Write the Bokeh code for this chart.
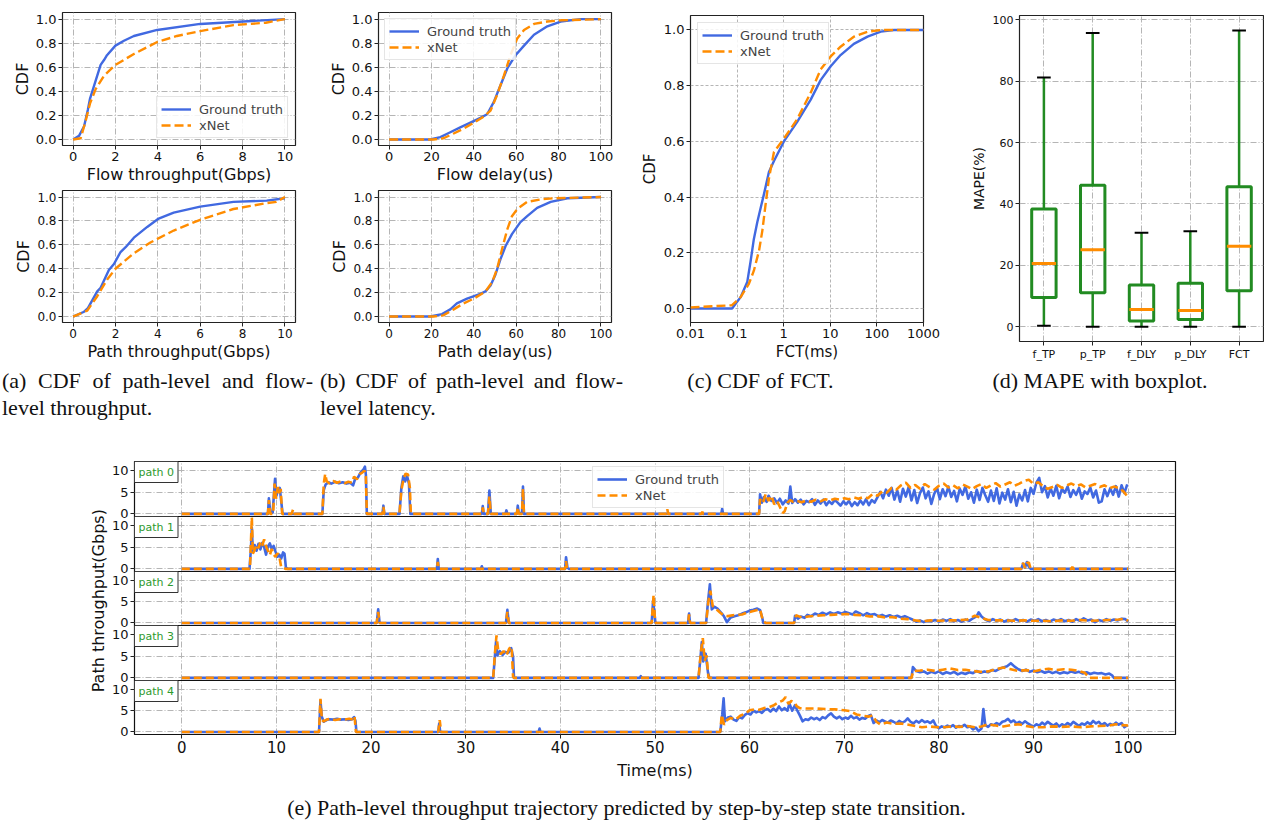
from math import pi
from bokeh.plotting import figure
from bokeh.layouts import row, column
from bokeh.models import Range1d, FixedTicker, PrintfTickFormatter, Label, Div, Grid
from bokeh.embed import file_html
from bokeh.resources import INLINE

# ---------------- data ----------------
# (a) CDF of throughput
flow_tp_gt_x = [0, 0.28, 0.52, 0.7, 0.8, 1.14, 1.3, 1.46, 1.6, 2.0, 2.4, 2.87, 3.97, 6.0, 8.04, 10]
flow_tp_gt_y = [0, 0.03, 0.11, 0.25, 0.34, 0.53, 0.62, 0.66, 0.70, 0.78, 0.82, 0.86, 0.91, 0.96, 0.98, 1.0]
flow_tp_xn_x = [0, 0.36, 0.6, 0.8, 1.07, 1.46, 2.0, 2.87, 3.97, 4.9, 6.0, 7.57, 9.1, 10]
flow_tp_xn_y = [0, 0.01, 0.16, 0.30, 0.42, 0.53, 0.62, 0.71, 0.81, 0.86, 0.90, 0.95, 0.97, 1.0]
path_tp_gt_x = [0, 0.52, 0.7, 1.14, 1.3, 1.69, 1.93, 2.24, 2.48, 2.87, 3.5, 4.04, 4.75, 6.0, 7.57, 9.14, 10]
path_tp_gt_y = [0, 0.04, 0.07, 0.21, 0.24, 0.39, 0.44, 0.54, 0.58, 0.66, 0.75, 0.82, 0.87, 0.92, 0.96, 0.97, 0.99]
path_tp_xn_x = [0, 0.67, 1.14, 1.61, 2.0, 2.87, 3.65, 4.75, 6.0, 7.57, 9.14, 9.6, 10]
path_tp_xn_y = [0, 0.05, 0.17, 0.31, 0.40, 0.53, 0.62, 0.72, 0.81, 0.90, 0.95, 0.96, 1.0]

# (b) CDF of delay
flow_dl_gt_x = [0, 19.4, 24.2, 28.9, 33.6, 38.4, 43.1, 46.3, 49.4, 52.6, 55.8, 59.7, 63.7, 68.4, 74.7, 81, 90.5, 100]
flow_dl_gt_y = [0, 0, 0.02, 0.06, 0.10, 0.14, 0.18, 0.21, 0.31, 0.45, 0.59, 0.70, 0.78, 0.87, 0.94, 0.98, 1.0, 1.0]
flow_dl_xn_x = [0, 21, 25.7, 30.5, 35.2, 40, 44.7, 47.9, 51, 54.2, 57.3, 60.5, 63.7, 68.4, 74.7, 81, 100]
flow_dl_xn_y = [0, 0, 0.01, 0.05, 0.09, 0.14, 0.19, 0.24, 0.37, 0.53, 0.70, 0.84, 0.91, 0.96, 0.98, 0.99, 1.0]
path_dl_gt_x = [0, 19.4, 25, 28.9, 32, 36.8, 43.1, 45.5, 47.9, 50.2, 52.6, 55, 58, 62, 65.2, 69.9, 76.3, 84.2, 100]
path_dl_gt_y = [0, 0, 0.02, 0.06, 0.11, 0.15, 0.19, 0.21, 0.26, 0.35, 0.48, 0.59, 0.69, 0.79, 0.84, 0.91, 0.96, 0.99, 1.0]
path_dl_xn_x = [0, 21, 25.7, 30.5, 35.2, 40, 45.5, 48.7, 51, 53.4, 55.8, 58, 60.5, 65.2, 71.4, 77.9, 100]
path_dl_xn_y = [0, 0, 0.01, 0.06, 0.11, 0.15, 0.21, 0.29, 0.40, 0.57, 0.73, 0.84, 0.90, 0.96, 0.98, 0.99, 1.0]

# (c) CDF of FCT
fct_gt_x = [0.01, 0.078, 0.119, 0.165, 0.195, 0.229, 0.271, 0.319, 0.376, 0.482, 0.618, 1.01, 1.95, 3.8,
            6.2, 10.2, 16.6, 32, 63, 121, 232, 1000]
fct_gt_y = [0, 0, 0.041, 0.095, 0.17, 0.25, 0.31, 0.36, 0.41, 0.49, 0.53, 0.60, 0.67, 0.75,
            0.82, 0.87, 0.91, 0.95, 0.976, 0.994, 1.0, 1.0]
fct_xn_x = [0.01, 0.078, 0.119, 0.179, 0.229, 0.295, 0.347, 0.408, 0.482, 0.618, 1.01, 1.95, 3.8, 6.2,
            10.2, 16.6, 32, 63, 121, 1000]
fct_xn_y = [0.004, 0.012, 0.041, 0.089, 0.136, 0.207, 0.278, 0.373, 0.467, 0.562, 0.61, 0.68, 0.775, 0.858,
            0.905, 0.94, 0.976, 0.994, 1.0, 1.0]

# (d) MAPE boxplot
box_names = ["f_TP", "p_TP", "f_DLY", "p_DLY", "FCT"]
box_low = [0.3, 0.0, 0.0, 0.0, 0.0]
box_q1 = [9.5, 11.1, 1.9, 2.4, 11.7]
box_med = [20.6, 25.1, 5.6, 5.3, 26.2]
box_q3 = [38.4, 46.1, 13.6, 14.2, 45.6]
box_high = [81.2, 95.7, 30.6, 31.1, 96.5]

# (e) path-level throughput trajectories: (time ms, Gbps)
p0_truth = [(0, 0), (9.1, 0), (9.2, 3.6), (9.35, 0.2), (9.6, 0.3), (9.75, 5.0), (9.85, 8.1), (10.0, 4.2),
            (10.15, 5.5), (10.35, 6.0), (10.5, 3.0), (10.65, 0), (14.85, 0), (15.0, 5.5), (15.2, 6.8),
            (15.5, 7.3), (15.8, 7.0), (16.2, 7.4), (16.6, 7.1), (17.0, 7.3), (17.4, 7.0), (17.8, 7.2),
            (18.1, 6.6), (18.3, 8.0), (18.6, 8.4), (18.9, 9.6), (19.2, 10.3), (19.35, 10.9), (19.45, 9.0),
            (19.55, 0), (21.2, 0), (21.3, 1.9), (21.4, 0), (23.0, 0), (23.2, 6.0), (23.4, 8.7), (23.6, 7.5),
            (23.8, 8.8), (24.0, 7.0), (24.15, 0), (31.7, 0), (31.8, 1.8), (31.9, 0), (32.35, 0), (32.5, 5.4),
            (32.65, 0), (34.2, 0), (34.3, 0.8), (34.4, 0), (35.4, 0), (35.5, 1.9), (35.6, 0.2), (35.95, 0.2),
            (36.05, 6.3), (36.15, 0), (57.0, 0), (57.1, 1.2), (57.2, 0), (61.0, 0),
            (61.1, 4.5), (61.3, 2.6), (61.5, 3.9), (61.8, 2.8), (62.0, 4.2), (62.3, 3.0), (62.6, 3.6),
            (62.9, 2.5), (63.2, 3.5), (63.5, 2.2), (63.8, 3.1), (64.1, 2.4), (64.3, 6.3), (64.5, 2.5),
            (64.8, 3.4), (65.1, 2.6), (65.4, 3.3), (65.7, 2.2), (66.0, 3.0), (66.3, 2.7), (66.6, 3.4),
            (66.9, 2.1), (67.2, 3.1), (67.5, 2.4), (67.8, 3.3), (68.1, 2.0), (68.4, 2.9), (68.7, 2.3),
            (69.0, 3.2), (69.3, 2.6), (69.6, 1.9), (69.9, 2.9), (70.2, 2.2), (70.5, 3.0), (70.8, 1.8),
            (71.1, 2.7), (71.4, 2.0), (71.7, 3.1), (72.0, 2.2), (72.3, 3.4), (72.6, 2.0), (72.9, 3.2),
            (73.2, 2.6), (73.5, 3.8), (73.8, 5.1), (74.1, 3.6), (74.4, 5.6), (74.7, 4.2), (75.0, 6.0),
            (75.3, 3.3), (75.6, 5.4), (75.9, 2.8), (76.2, 5.8), (76.5, 4.0), (76.8, 6.2), (77.1, 3.1),
            (77.4, 5.5), (77.7, 2.5), (78.0, 4.8), (78.3, 6.1), (78.6, 3.6), (78.9, 5.2), (79.2, 2.3),
            (79.5, 4.6), (79.8, 6.0), (80.1, 3.4), (80.4, 5.7), (80.7, 4.1), (81.0, 6.3), (81.3, 3.9),
            (81.6, 5.3), (81.9, 2.9), (82.2, 5.8), (82.5, 4.4), (82.8, 6.4), (83.1, 3.5), (83.4, 5.0),
            (83.7, 2.6), (84.0, 5.6), (84.3, 3.2), (84.6, 6.0), (84.9, 4.3), (85.2, 2.8), (85.5, 5.4),
            (85.8, 3.0), (86.1, 5.9), (86.4, 2.4), (86.7, 4.9), (87.0, 3.3), (87.3, 5.7), (87.6, 2.7),
            (87.9, 5.1), (88.2, 1.9), (88.5, 4.5), (88.8, 3.1), (89.1, 5.5), (89.4, 2.9), (89.7, 6.0),
            (90.0, 4.6), (90.3, 7.2), (90.6, 8.3), (90.9, 5.0), (91.2, 6.4), (91.5, 3.8), (91.8, 5.9),
            (92.1, 4.2), (92.4, 6.5), (92.7, 3.6), (93.0, 5.8), (93.3, 4.9), (93.6, 6.3), (93.9, 3.9),
            (94.2, 5.5), (94.5, 4.4), (94.8, 6.0), (95.1, 3.5), (95.4, 5.2), (95.7, 4.6), (96.0, 6.1),
            (96.3, 3.8), (96.6, 5.4), (96.9, 2.6), (97.2, 2.9), (97.5, 5.7), (97.8, 4.1), (98.1, 5.9),
            (98.4, 4.4), (98.7, 6.4), (99.0, 4.0), (99.3, 6.6), (99.6, 4.8), (99.9, 6.8)]
p0_xnet = [(0, 0), (9.1, 0), (9.2, 3.2), (9.35, 0), (9.65, 0), (9.8, 7.0), (9.95, 3.5), (10.15, 6.2),
           (10.3, 4.8), (10.45, 5.8), (10.6, 0), (11.6, 0), (11.75, 1.0), (11.9, 0), (14.85, 0), (15.0, 7.0),
           (15.15, 9.2), (15.3, 7.6), (15.6, 7.0), (16.0, 7.6), (16.4, 7.2), (16.8, 7.5), (17.2, 7.1),
           (17.6, 7.4), (18.0, 7.2), (18.2, 8.6), (18.5, 8.0), (18.8, 9.2), (19.1, 9.6), (19.3, 10.0),
           (19.45, 8.5), (19.55, 0), (21.2, 0), (21.3, 1.6), (21.4, 0), (23.0, 0), (23.2, 5.5), (23.45, 8.3),
           (23.65, 9.3), (23.9, 9.1), (24.1, 6.0), (24.2, 0), (31.7, 0), (31.8, 1.5), (31.9, 0), (32.35, 0),
           (32.5, 4.0), (32.65, 0), (35.4, 0), (35.5, 1.5), (35.6, 0), (35.95, 0), (36.05, 5.8), (36.15, 0),
           (51.2, 0), (51.3, 1.1), (51.4, 0), (54.9, 0), (55.0, 0.5), (55.1, 0), (61.0, 0),
           (61.1, 3.4), (61.4, 2.5), (61.7, 4.6), (62.0, 3.0), (62.3, 4.2), (62.6, 2.2), (62.9, 3.0),
           (63.2, 1.6), (63.5, 0.2), (63.7, 0.6), (64.0, 2.6), (64.3, 3.2), (64.6, 2.8), (65.0, 3.0),
           (65.5, 2.7), (66.0, 3.1), (66.5, 2.8), (67.0, 3.3), (67.5, 2.9), (68.0, 3.4), (68.5, 3.1),
           (69.0, 3.5), (69.5, 3.3), (70.0, 3.6), (70.5, 3.4), (71.0, 3.8), (71.5, 3.5), (72.0, 3.9),
           (72.5, 3.6), (73.0, 4.6), (73.5, 4.2), (74.0, 5.2), (74.5, 4.9), (75.0, 6.0), (75.5, 5.6),
           (76.0, 6.6), (76.5, 7.2), (77.0, 6.0), (77.5, 6.7), (78.0, 5.8), (78.5, 6.9), (79.0, 6.2),
           (79.5, 5.6), (80.0, 6.5), (80.5, 7.0), (81.0, 6.1), (81.5, 6.6), (82.0, 5.9), (82.5, 6.8),
           (83.0, 6.3), (83.5, 5.7), (84.0, 6.4), (84.5, 6.9), (85.0, 6.0), (85.5, 6.6), (86.0, 7.1),
           (86.5, 6.3), (87.0, 6.8), (87.5, 7.3), (88.0, 6.5), (88.5, 7.0), (89.0, 7.6), (89.5, 7.9),
           (90.0, 6.9), (90.5, 7.3), (91.0, 6.4), (91.5, 5.8), (92.0, 6.2), (92.5, 6.7), (93.0, 6.0),
           (93.5, 6.6), (94.0, 7.0), (94.5, 6.4), (95.0, 6.8), (95.5, 6.1), (96.0, 6.5), (96.5, 6.9),
           (97.0, 6.2), (97.5, 6.6), (98.0, 5.9), (98.5, 6.3), (99.0, 6.0), (99.5, 5.2), (100.0, 3.8)]

p1_truth = [(0, 0), (7.15, 0), (7.3, 4.5), (7.4, 9.5), (7.5, 4.0), (7.7, 5.5), (7.9, 4.2), (8.1, 5.8),
            (8.3, 4.5), (8.5, 6.0), (8.7, 5.0), (8.9, 3.3), (9.1, 5.2), (9.3, 5.9), (9.5, 4.6), (9.7, 5.3),
            (9.9, 4.0), (10.1, 2.8), (10.3, 3.3), (10.5, 2.4), (10.7, 3.8), (10.85, 3.5), (11.0, 0.3),
            (11.2, 0), (26.95, 0), (27.05, 2.3), (27.15, 0), (31.6, 0), (31.7, 0.6), (31.8, 0), (40.5, 0),
            (40.6, 2.7), (40.75, 0.3), (40.9, 0), (88.7, 0), (88.9, 1.2), (89.1, 0.3), (89.3, 1.6),
            (89.5, 0.5), (89.7, 0), (100, 0)]
p1_xnet = [(0, 0), (7.2, 0), (7.3, 6.0), (7.4, 11.9), (7.5, 3.5), (7.7, 4.4), (7.9, 5.6), (8.1, 4.8),
           (8.3, 6.2), (8.5, 5.4), (8.7, 6.8), (8.9, 5.2), (9.1, 4.2), (9.3, 3.2), (9.5, 4.6), (9.7, 3.3),
           (9.9, 2.8), (10.1, 3.6), (10.3, 2.9), (10.5, 0.4), (10.7, 0.2), (11.0, 0), (26.95, 0),
           (27.05, 1.6), (27.15, 0), (40.5, 0), (40.6, 1.8), (40.7, 0), (88.7, 0), (88.9, 1.4), (89.1, 0.2),
           (89.3, 1.3), (89.5, 1.5), (89.7, 0), (94.0, 0), (94.1, 0.5), (94.2, 0), (100, 0)]

p2_truth = [(0, 0), (20.6, 0), (20.75, 3.2), (20.9, 0), (34.25, 0), (34.4, 3.1), (34.55, 0), (49.65, 0),
            (49.8, 5.2), (49.95, 2.0), (50.05, 0), (53.5, 0), (53.6, 2.2), (53.7, 0), (55.4, 0), (55.6, 5.0),
            (55.8, 9.1), (56.0, 3.2), (56.3, 3.8), (56.6, 3.4), (57.0, 2.4), (57.3, 1.5), (57.6, 0.2),
            (58.0, 1.3), (58.4, 1.6), (58.8, 1.8), (59.2, 2.2), (59.6, 2.5), (60.0, 2.9), (60.4, 3.1),
            (60.8, 3.4), (61.1, 3.0), (61.3, 1.5), (61.45, 0), (64.7, 0),
            (64.8, 1.7), (65.1, 1.0), (65.4, 1.5), (65.8, 1.2), (66.1, 1.9), (66.5, 1.6), (66.9, 2.2),
            (67.3, 1.9), (67.7, 2.4), (68.1, 2.0), (68.5, 2.5), (68.9, 2.1), (69.3, 2.5), (69.7, 2.2),
            (70.1, 2.6), (70.5, 2.3), (70.9, 2.0), (71.2, 2.7), (71.6, 2.3), (72.0, 1.8), (72.4, 2.3),
            (72.8, 1.9), (73.2, 2.1), (73.6, 1.6), (74.0, 1.9), (74.4, 1.5), (74.8, 1.8), (75.2, 1.4),
            (75.6, 1.7), (76.0, 1.3), (76.4, 1.6), (76.8, 1.2), (77.2, 0.8), (77.6, 0.3), (78.0, 0.6),
            (78.4, 0.2), (78.8, 0.5), (79.2, 0.4), (79.6, 0.7), (80.0, 0.3), (80.4, 0.8), (80.8, 0.5),
            (81.2, 0.9), (81.6, 0.4), (82.0, 0.7), (82.4, 0.3), (82.8, 0.8), (83.2, 0.5), (83.6, 1.1),
            (84.0, 1.6), (84.2, 2.5), (84.5, 1.5), (84.9, 0.8), (85.3, 0.4), (85.7, 0.9), (86.1, 0.5),
            (86.5, 0.8), (86.9, 0.3), (87.3, 0.7), (87.7, 0.4), (88.1, 0.9), (88.5, 0.5), (88.9, 0.7),
            (89.3, 0.3), (89.7, 0.8), (90.1, 0.5), (90.5, 0.9), (90.9, 0.4), (91.3, 0.7), (91.7, 0.3),
            (92.1, 0.8), (92.5, 0.5), (92.9, 0.9), (93.3, 0.4), (93.7, 0.7), (94.1, 0.3), (94.5, 0.9),
            (94.9, 0.5), (95.3, 1.1), (95.7, 0.6), (96.1, 0.8), (96.5, 0.2), (96.9, 0.7), (97.3, 0.4),
            (97.7, 0.9), (98.1, 0.5), (98.5, 0.8), (98.9, 0.6), (99.3, 1.0), (99.7, 0.9), (100.0, 0.3)]
p2_xnet = [(0, 0), (20.6, 0), (20.75, 2.6), (20.9, 0), (34.25, 0), (34.4, 2.6), (34.55, 0), (49.65, 0),
           (49.85, 6.6), (50.0, 0.5), (50.1, 0), (53.5, 0), (53.6, 2.0), (53.7, 0), (55.4, 0), (55.65, 5.2),
           (55.85, 7.6), (56.1, 4.0), (56.5, 3.2), (56.9, 2.4), (57.3, 1.7), (57.7, 1.6), (58.2, 1.8),
           (58.7, 1.9), (59.2, 2.0), (59.7, 2.4), (60.2, 2.7), (60.7, 3.0), (61.1, 3.2), (61.4, 0.5),
           (61.7, 0), (64.7, 0), (64.9, 1.8), (65.5, 1.3), (66.2, 1.5), (67.0, 1.7), (67.8, 1.8),
           (68.6, 1.9), (69.5, 2.0), (70.3, 2.1), (71.1, 1.9), (71.9, 1.8), (72.7, 1.5), (73.5, 1.6),
           (74.3, 1.3), (75.1, 1.4), (75.9, 1.0), (76.7, 0.9), (77.5, 0.6), (78.3, 0.4), (79.1, 0.6),
           (80.0, 0.5), (81.0, 0.6), (82.0, 0.6), (83.0, 0.8), (83.8, 1.7), (84.5, 1.2), (85.2, 0.7),
           (86.0, 0.6), (87.0, 0.6), (88.0, 0.5), (89.0, 0.6), (90.0, 0.5), (91.0, 0.5), (92.0, 0.4),
           (93.0, 0.6), (94.0, 0.5), (95.0, 0.7), (96.0, 0.5), (97.0, 0.6), (98.0, 0.7), (99.0, 0.8),
           (99.6, 1.0), (100.0, 0.5)]

p3_truth = [(0, 0), (32.9, 0), (33.05, 4.0), (33.2, 8.3), (33.35, 5.2), (33.6, 6.2), (33.9, 5.3), (34.2, 6.0),
            (34.5, 5.8), (34.8, 6.9), (35.0, 5.0), (35.1, 0), (48.4, 0), (48.5, 0.4), (48.6, 0), (54.6, 0),
            (54.8, 4.5), (54.95, 8.3), (55.1, 3.8), (55.35, 5.6), (55.6, 1.2), (55.75, 0), (77.1, 0),
            (77.25, 2.5), (77.6, 1.6), (78.0, 1.3), (78.4, 1.5), (78.8, 1.0), (79.2, 1.4), (79.6, 1.1),
            (80.0, 1.5), (80.4, 0.9), (80.8, 1.3), (81.2, 1.0), (81.6, 1.4), (82.0, 0.8), (82.4, 1.2),
            (82.8, 0.9), (83.2, 1.3), (83.6, 1.1), (84.0, 1.6), (84.4, 1.2), (84.8, 1.5), (85.2, 1.3),
            (85.6, 1.8), (86.0, 1.6), (86.4, 2.1), (86.8, 2.4), (87.2, 2.7), (87.6, 3.4), (88.0, 2.6),
            (88.4, 2.0), (88.8, 1.6), (89.2, 1.9), (89.6, 1.4), (90.0, 1.7), (90.4, 1.3), (90.8, 1.6),
            (91.2, 1.2), (91.6, 1.5), (92.0, 1.1), (92.4, 1.4), (92.8, 1.0), (93.2, 1.3), (93.6, 1.1),
            (94.0, 1.5), (94.4, 1.2), (94.8, 1.4), (95.2, 1.0), (95.6, 1.3), (96.0, 0.9), (96.4, 1.2),
            (96.8, 1.0), (97.2, 1.1), (97.6, 0.8), (98.0, 1.0), (98.3, 0.6), (98.5, 0), (100, 0)]
p3_xnet = [(0, 0), (32.9, 0), (33.1, 6.0), (33.25, 9.8), (33.45, 6.0), (33.7, 5.5), (34.0, 6.2), (34.3, 5.2),
           (34.6, 6.8), (34.85, 7.2), (35.0, 0.3), (35.1, 0), (54.6, 0), (54.85, 6.0), (55.05, 9.2),
           (55.25, 4.0), (55.45, 5.2), (55.65, 0), (77.1, 0), (77.3, 1.6), (78.0, 1.7), (78.8, 1.9),
           (79.6, 1.6), (80.4, 1.9), (81.2, 2.2), (82.0, 1.8), (82.8, 1.9), (83.6, 1.6), (84.4, 1.4),
           (85.2, 1.5), (86.0, 2.0), (86.8, 2.4), (87.6, 2.0), (88.4, 1.6), (89.2, 1.8), (90.0, 1.5),
           (90.8, 1.9), (91.6, 2.1), (92.4, 1.8), (93.2, 2.0), (94.0, 1.9), (94.8, 1.6), (95.4, 1.2),
           (95.9, 0), (100, 0)]

p4_truth = [(0, 0), (14.5, 0), (14.65, 7.3), (14.8, 3.5), (15.0, 2.4), (15.3, 2.8), (15.6, 3.0), (16.0, 2.9),
            (16.4, 3.1), (16.8, 2.9), (17.2, 3.0), (17.6, 2.8), (18.0, 3.0), (18.2, 3.5), (18.35, 2.6),
            (18.45, 0), (27.1, 0), (27.2, 2.0), (27.3, 0), (37.7, 0), (37.8, 0.8), (37.9, 0), (56.9, 0),
            (57.1, 4.0), (57.25, 7.9), (57.4, 2.5), (57.7, 3.4), (58.0, 3.6), (58.3, 2.9), (58.6, 2.6),
            (58.9, 3.5), (59.2, 3.2), (59.5, 4.0), (59.8, 4.4), (60.1, 4.1), (60.4, 5.0), (60.7, 4.6),
            (61.0, 4.9), (61.3, 4.5), (61.6, 5.2), (61.9, 5.4), (62.2, 4.8), (62.5, 5.5), (62.8, 4.9),
            (63.1, 6.0), (63.4, 5.1), (63.7, 5.6), (64.0, 5.0), (64.2, 6.7), (64.5, 5.0), (64.8, 6.3),
            (65.0, 5.2), (65.3, 3.9), (65.6, 2.5), (65.9, 3.0), (66.2, 2.8), (66.5, 3.4), (66.8, 3.0),
            (67.1, 3.3), (67.4, 2.8), (67.7, 3.5), (68.0, 3.2), (68.3, 3.9), (68.6, 4.4), (68.9, 3.6),
            (69.2, 3.2), (69.5, 3.6), (69.8, 3.0), (70.1, 3.4), (70.4, 3.1), (70.7, 3.8), (71.0, 3.2),
            (71.3, 3.5), (71.6, 2.9), (71.9, 3.3), (72.2, 3.1), (72.5, 3.7), (72.8, 4.0), (73.1, 2.1),
            (73.4, 2.7), (73.7, 2.3), (74.0, 2.8), (74.3, 2.5), (74.6, 2.2), (74.9, 2.7), (75.2, 2.4),
            (75.5, 2.0), (75.8, 2.6), (76.1, 2.2), (76.4, 2.5), (76.7, 3.2), (77.0, 2.4), (77.3, 2.0),
            (77.6, 2.6), (77.9, 2.2), (78.2, 2.8), (78.5, 2.3), (78.8, 2.5), (79.1, 2.1), (79.4, 2.7),
            (79.7, 1.4), (80.0, 0.9), (80.3, 1.3), (80.6, 1.1), (80.9, 1.5), (81.2, 1.2), (81.5, 1.6),
            (81.8, 1.0), (82.1, 1.4), (82.4, 1.2), (82.7, 1.7), (83.0, 1.1), (83.3, 1.3), (83.6, 0.6),
            (83.9, 1.0), (84.2, 0.2), (84.5, 0.8), (84.7, 5.4), (84.9, 1.6), (85.2, 1.2), (85.5, 1.8),
            (85.8, 1.6), (86.1, 2.1), (86.4, 1.7), (86.7, 2.4), (87.0, 2.6), (87.3, 3.1), (87.6, 2.3),
            (87.9, 2.7), (88.2, 2.0), (88.5, 2.4), (88.8, 1.9), (89.1, 2.5), (89.4, 2.0), (89.7, 1.6),
            (90.0, 1.3), (90.3, 1.8), (90.6, 1.5), (90.9, 2.2), (91.2, 1.7), (91.5, 2.4), (91.8, 1.9),
            (92.1, 1.5), (92.4, 2.0), (92.7, 1.3), (93.0, 1.8), (93.3, 1.5), (93.6, 2.1), (93.9, 1.6),
            (94.2, 2.4), (94.5, 1.9), (94.8, 1.4), (95.1, 2.0), (95.4, 1.7), (95.7, 2.3), (96.0, 1.8),
            (96.3, 2.6), (96.6, 2.0), (96.9, 2.4), (97.2, 1.6), (97.5, 2.1), (97.8, 1.5), (98.1, 1.9),
            (98.4, 1.6), (98.7, 2.2), (99.0, 1.7), (99.3, 2.1), (99.6, 1.1), (99.9, 1.6)]
p4_xnet = [(0, 0), (14.5, 0), (14.65, 7.8), (14.8, 2.8), (15.0, 2.5), (15.3, 2.9), (15.7, 3.1), (16.2, 2.8),
           (16.7, 3.0), (17.2, 2.9), (17.7, 3.1), (18.1, 2.9), (18.25, 3.6), (18.4, 0), (27.1, 0),
           (27.25, 2.8), (27.4, 0), (56.9, 0), (57.05, 4.0), (57.3, 1.7), (57.6, 2.8), (58.0, 3.3),
           (58.5, 2.9), (59.0, 3.8), (59.5, 4.3), (60.0, 5.1), (60.5, 5.3), (61.0, 5.2), (61.5, 5.6),
           (62.0, 5.8), (62.5, 6.2), (63.0, 6.9), (63.5, 7.4), (63.8, 8.2), (64.1, 6.6), (64.4, 7.3),
           (64.7, 7.0), (65.0, 6.0), (65.3, 5.6), (66.0, 5.5), (67.0, 5.5), (68.0, 5.4), (69.0, 5.3),
           (70.0, 5.1), (70.6, 4.9), (71.3, 4.1), (72.0, 3.8), (72.6, 3.6), (73.0, 3.9), (73.4, 2.4),
           (73.8, 1.8), (74.5, 2.2), (75.2, 1.9), (76.0, 2.0), (76.8, 1.7), (77.5, 1.4), (78.2, 1.1),
           (79.0, 1.3), (79.8, 1.1), (80.6, 1.1), (81.4, 1.3), (82.2, 1.2), (83.0, 1.4), (83.8, 1.1),
           (84.5, 1.3), (85.2, 1.8), (86.0, 1.5), (86.8, 1.3), (87.6, 1.6), (88.4, 1.8), (89.2, 1.4),
           (90.0, 1.1), (91.0, 1.1), (92.0, 1.3), (93.0, 1.2), (94.0, 1.3), (95.0, 1.1), (96.0, 1.3),
           (97.0, 1.4), (98.0, 1.5), (98.7, 1.8), (99.3, 1.6), (100.0, 1.5)]

paths_truth = [p0_truth, p1_truth, p2_truth, p3_truth, p4_truth]
paths_xnet = [p0_xnet, p1_xnet, p2_xnet, p3_xnet, p4_xnet]
path_names = ["path 0", "path 1", "path 2", "path 3", "path 4"]

cdf_ticks = [0.0, 0.2, 0.4, 0.6, 0.8, 1.0]
tp_ticks = [0, 2, 4, 6, 8, 10]
dl_ticks = [0, 20, 40, 60, 80, 100]
fct_ticks = [0.01, 0.1, 1, 10, 100, 1000]
fct_tick_labels = {0.01: "0.01", 0.1: "0.1", 1: "1", 10: "10", 100: "100", 1000: "1000"}
mape_ticks = [0, 20, 40, 60, 80, 100]
time_ticks = [0, 10, 20, 30, 40, 50, 60, 70, 80, 90, 100]
path_y_ticks = [0, 5, 10]

# ---------------- styling ----------------
BLUE = "#4169e1"
ORANGE = "#ff8c00"
GREEN = "#228b22"
FONT = "DejaVu Sans"
SERIF = "Liberation Serif"
DASHDOT = "6 2 1 2"
LW = 2.4
DASH = "9 4"


def style_axes(p, tick_size, label_size, grid_dash=DASHDOT, label_standoff=1):
    for ax in p.axis:
        ax.major_label_text_font = FONT
        ax.major_label_text_font_size = tick_size
        ax.major_label_text_color = "#111111"
        ax.axis_label_text_font = FONT
        ax.axis_label_text_font_size = label_size
        ax.axis_label_text_font_style = "normal"
        ax.axis_label_text_color = "#111111"
        ax.axis_line_color = None
        ax.major_tick_line_color = "#222222"
        ax.major_tick_out = 4
        ax.major_tick_in = 0
        ax.minor_tick_line_color = None
        ax.major_label_standoff = 2
        ax.axis_label_standoff = label_standoff
    for g in p.grid:
        g.grid_line_color = "#b5b5b5"
        g.grid_line_dash = grid_dash
        g.grid_line_width = 1
    p.outline_line_color = "#222222"
    p.outline_line_width = 1.2


def style_legend(p, loc, margin=7):
    lg = p.legend[0]
    lg.location = loc
    lg.margin = margin
    lg.padding = 4
    lg.spacing = 0
    lg.glyph_width = 30
    lg.glyph_height = 16
    lg.label_height = 16
    lg.label_standoff = 8
    lg.label_text_font = FONT
    lg.label_text_font_size = "13px"
    lg.border_line_color = "#cccccc"
    lg.border_line_width = 1
    lg.background_fill_alpha = 0.85


def cdf_fig(w, h, borders, xr, yr, xticks, xlabel, tick_size, label_size, x_type="linear",
            grid_dash=DASHDOT, label_standoff=1):
    left, right, top, bottom = borders
    p = figure(width=w, height=h, x_range=Range1d(*xr), y_range=Range1d(*yr), x_axis_type=x_type,
               toolbar_location=None, output_backend="svg",
               min_border_left=left, min_border_right=right, min_border_top=top, min_border_bottom=bottom)
    p.xaxis.ticker = FixedTicker(ticks=xticks)
    p.yaxis.ticker = FixedTicker(ticks=cdf_ticks)
    p.yaxis.formatter = PrintfTickFormatter(format="%.1f")
    p.xaxis.axis_label = xlabel
    p.yaxis.axis_label = "CDF"
    style_axes(p, tick_size, label_size, grid_dash, label_standoff)
    return p


def add_cdf_lines(p, gx, gy, xx, xy, legend=True):
    kw_g = dict(line_color=BLUE, line_width=LW, line_join="round")
    kw_x = dict(line_color=ORANGE, line_width=LW, line_dash=DASH)
    if legend:
        p.line(gx, gy, legend_label="Ground truth", **kw_g)
        p.line(xx, xy, legend_label="xNet", **kw_x)
    else:
        p.line(gx, gy, **kw_g)
        p.line(xx, xy, **kw_x)


# (a)  page x 0..320
a1 = cdf_fig(320, 186, (62, 25, 12, 40), (-0.5, 10.5), (-0.05, 1.055), tp_ticks,
             "Flow throughput(Gbps)", "13px", "16px")
add_cdf_lines(a1, flow_tp_gt_x, flow_tp_gt_y, flow_tp_xn_x, flow_tp_xn_y)
style_legend(a1, "bottom_right")
a2 = cdf_fig(320, 177, (62, 25, 4, 38), (-0.5, 10.5), (-0.05, 1.055), tp_ticks,
             "Path throughput(Gbps)", "12px", "16px")
add_cdf_lines(a2, path_tp_gt_x, path_tp_gt_y, path_tp_xn_x, path_tp_xn_y, legend=False)

# (b)  page x 320..623
b1 = cdf_fig(303, 186, (58, 12, 12, 40), (-5, 105), (-0.05, 1.055), dl_ticks,
             "Flow delay(us)", "13px", "16px")
add_cdf_lines(b1, flow_dl_gt_x, flow_dl_gt_y, flow_dl_xn_x, flow_dl_xn_y)
style_legend(b1, "top_left", margin=6)
b2 = cdf_fig(303, 177, (58, 12, 4, 38), (-5, 105), (-0.05, 1.055), dl_ticks,
             "Path delay(us)", "12px", "16px")
add_cdf_lines(b2, path_dl_gt_x, path_dl_gt_y, path_dl_xn_x, path_dl_xn_y, legend=False)

# (c)  page x 623..953
c = cdf_fig(330, 363, (67, 30, 15, 37), (0.01, 1000), (-0.05, 1.052), fct_ticks,
            "FCT(ms)", "13px", "15px", x_type="log", grid_dash="3 2", label_standoff=2)
c.xaxis.major_label_overrides = fct_tick_labels
add_cdf_lines(c, fct_gt_x, fct_gt_y, fct_xn_x, fct_xn_y)
style_legend(c, "top_left", margin=7)

# (d)  page x 953..1264
d = figure(width=311, height=363, x_range=Range1d(0.5, 5.5), y_range=Range1d(-4.8, 101.4),
           toolbar_location=None, output_backend="svg",
           min_border_left=66, min_border_right=1, min_border_top=15, min_border_bottom=21)
pos = list(range(1, len(box_names) + 1))
d.xaxis.ticker = FixedTicker(ticks=pos)
d.xaxis.major_label_overrides = {i: n for i, n in zip(pos, box_names)}
d.yaxis.ticker = FixedTicker(ticks=mape_ticks)
d.yaxis.axis_label = "MAPE(%)"
style_axes(d, "11px", "14px", label_standoff=3)
BOX_HALF = 0.25
CAP_HALF = 0.14
d.segment(x0=pos, y0=box_low, x1=pos, y1=box_q1, line_color=GREEN, line_width=2.5)
d.segment(x0=pos, y0=box_q3, x1=pos, y1=box_high, line_color=GREEN, line_width=2.5)
d.segment(x0=[i - CAP_HALF for i in pos], y0=box_low, x1=[i + CAP_HALF for i in pos], y1=box_low,
          line_color="black", line_width=2)
d.segment(x0=[i - CAP_HALF for i in pos], y0=box_high, x1=[i + CAP_HALF for i in pos], y1=box_high,
          line_color="black", line_width=2)
d.vbar(x=pos, width=2 * BOX_HALF, bottom=box_q1, top=box_q3, fill_color=None,
       line_color=GREEN, line_width=3)
d.segment(x0=[i - BOX_HALF for i in pos], y0=box_med, x1=[i + BOX_HALF for i in pos], y1=box_med,
          line_color=ORANGE, line_width=3)

top_row = row(column(a1, a2), column(b1, b2), column(c), column(d))

CAP_SIZE = "22px"


# captions
def cap_html(inner, width, extra=""):
    return (f'<div style="font-family:\'{SERIF}\';font-size:{CAP_SIZE};line-height:27px;color:#111;'
            f'padding-top:4px;width:{width}px;{extra}">{inner}</div>')


cap_a = Div(text=cap_html('<div style="text-align:justify;text-align-last:justify;">'
                          '(a) CDF of path-level and flow-</div><div>level throughput.</div>', 311,
                          "margin-left:2px;"),
            width=320, height=58, margin=0)
cap_b = Div(text=cap_html('<div style="text-align:justify;text-align-last:justify;">'
                          '(b) CDF of path-level and flow-</div><div>level latency.</div>', 303),
            width=303, height=58, margin=0)
cap_c = Div(text=cap_html('(c) CDF of FCT.', 275, "text-align:center;"), width=275, height=58, margin=0)
cap_d = Div(text=cap_html('(d) MAPE with boxplot.', 312, "text-align:center;margin-left:46px;"),
            width=366, height=58, margin=0)
cap_row = row(cap_a, cap_b, cap_c, cap_d)

# (e) stacked path figures, page x 108..1177
time_range = Range1d(-5, 105)
frame_h = [55, 55, 54, 55, 54]
OVER = 6  # extra canvas below upper frames so their "0" labels are not cut; overlapped by next plot
path_figs = []
for k in range(5):
    top_b = 40 if k == 0 else 0
    bot_b = 50 if k == 4 else OVER
    p = figure(width=1069, height=frame_h[k] + top_b + bot_b, x_range=time_range,
               y_range=Range1d(-0.6, 12.1), toolbar_location=None, output_backend="svg",
               x_axis_location="below" if k == 4 else None,
               min_border_left=26, min_border_right=2, min_border_top=top_b, min_border_bottom=bot_b,
               margin=(0, 0, 0 if k == 4 else -OVER, 0))
    p.background_fill_alpha = 0
    p.border_fill_alpha = 0
    p.yaxis.ticker = FixedTicker(ticks=path_y_ticks)
    if k == 4:
        p.xaxis.ticker = FixedTicker(ticks=time_ticks)
        p.xaxis.axis_label = "Time(ms)"
    if len(p.xgrid) == 0:
        p.add_layout(Grid(dimension=0, ticker=FixedTicker(ticks=time_ticks)), "center")
    else:
        p.xgrid.ticker = FixedTicker(ticks=time_ticks)
    style_axes(p, "13px", "16px", label_standoff=5)
    if k == 4:
        p.xaxis.major_label_text_font_size = "15px"
    p.outline_line_color = "#111111"
    tt, vt = zip(*paths_truth[k])
    tx, vx = zip(*paths_xnet[k])
    if k == 0:
        p.line(list(tt), list(vt), line_color=BLUE, line_width=2.6, line_join="round",
               legend_label="Ground truth")
        p.line(list(tx), list(vx), line_color=ORANGE, line_width=2.6, line_dash="8 4",
               legend_label="xNet")
        style_legend(p, (458, 8))
    else:
        p.line(list(tt), list(vt), line_color=BLUE, line_width=2.6, line_join="round")
        p.line(list(tx), list(vx), line_color=ORANGE, line_width=2.6, line_dash="8 4")
    p.add_layout(Label(x=-5, y=12.1, text=path_names[k], text_align="left", text_baseline="top",
                       text_font=FONT, text_font_size="11px", text_color="#2e9a2e",
                       background_fill_color="white", background_fill_alpha=1.0,
                       border_line_color="#333333", border_line_width=1, padding=4))
    path_figs.append(p)

stack_h = sum(frame_h) + 40 + 50
ylab = figure(width=108, height=stack_h, x_range=Range1d(0, 1),
              y_range=Range1d(0, 1), toolbar_location=None, output_backend="svg",
              x_axis_location=None, y_axis_location=None,
              min_border_left=0, min_border_right=0, min_border_top=40, min_border_bottom=50)
ylab.grid.visible = False
ylab.outline_line_color = None
ylab.add_layout(Label(x=0.91, y=0.49, text="Path throughput(Gbps)", angle=pi / 2,
                      text_align="center", text_baseline="middle", text_font=FONT,
                      text_font_size="16px", text_color="#111111"))

bottom_row = row(column(ylab), column(*path_figs))

cap_e = Div(text=(f'<div style="font-family:\'{SERIF}\';font-size:{CAP_SIZE};line-height:20px;color:#111;'
                  f'padding-top:14px;width:1253px;text-align:center;white-space:nowrap;">'
                  '(e) Path-level throughput trajectory predicted by step-by-step state transition.</div>'),
            width=1264, height=34, margin=0)

layout = column(top_row, cap_row, bottom_row, cap_e)

open("out.html", "w").write(file_html(layout, INLINE))
